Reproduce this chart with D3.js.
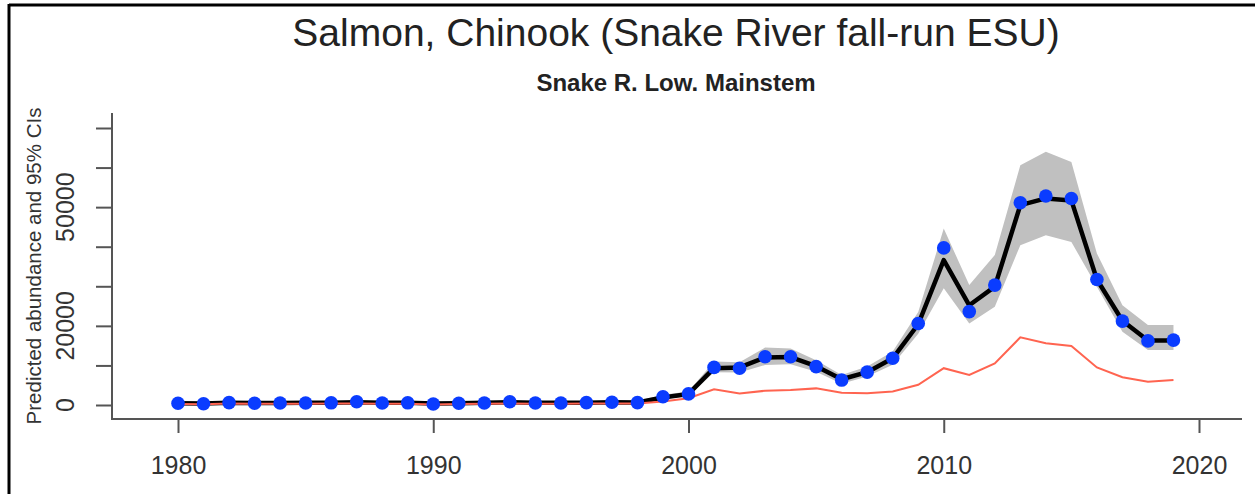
<!DOCTYPE html>
<html lang="en">
<head>
  <meta charset="UTF-8">
  <title>Salmon, Chinook</title>
  <style>
    body { margin: 0; background: #fff; }
    text { font-family: "Liberation Sans", Arial, sans-serif; }
  </style>
</head>
<body>
  <svg id="chart" width="1255" height="494"></svg>
  <script src="https://d3js.org/d3.v7.min.js"></script>
  <script>
    // years and values
    var years = [1980,1981,1982,1983,1984,1985,1986,1987,1988,1989,
                 1990,1991,1992,1993,1994,1995,1996,1997,1998,1999,
                 2000,2001,2002,2003,2004,2005,2006,2007,2008,2009,
                 2010,2011,2012,2013,2014,2015,2016,2017,2018,2019];
    var observed = [450,300,600,450,500,500,550,830,500,550,
                    250,450,500,830,500,500,600,700,600,2100,
                    2800,9500,9300,12200,12200,9700,6300,8300,11800,20600,
                    39700,23600,30300,51100,52800,52200,31700,21200,16200,16400];
    var predicted = [450,350,550,500,500,550,600,700,550,550,
                     350,450,550,700,550,550,600,700,650,1900,
                     2800,9300,9500,12000,12100,9800,6500,8300,11800,20400,
                     36600,25200,29900,50500,52200,51700,31700,21300,16300,16300];
    var lower = [200,100,300,200,250,250,300,400,250,300,
                 100,200,250,400,250,250,300,400,350,1500,
                 2200,8300,8200,10100,10300,8400,5400,7200,10200,18000,
                 29500,20600,24800,40400,42900,41200,29900,18500,13900,13900];
    var upper = [700,600,850,750,800,800,900,1100,850,850,
                 600,750,850,1100,850,850,900,1100,1000,2600,
                 3400,11000,10800,14500,14300,11300,7600,9700,13500,23500,
                 44600,30300,37900,60600,64000,61400,38300,25200,20200,20200];
    var redLine = [250,200,350,300,300,300,350,400,300,300,
                   150,250,300,400,300,300,350,400,400,900,
                   1700,3950,2900,3600,3800,4200,3100,3000,3400,5100,
                   9300,7600,10500,17100,15600,14900,9500,7000,5900,6300];
    var yTicks = [0,10000,20000,30000,40000,50000,60000,70000];
    var yLabels = [0,20000,50000];
    var xTicks = [1980,1990,2000,2010,2020];

    var svg = d3.select("#chart");

    // frame edges visible in the screenshot
    svg.append("line").attr("x1", 9).attr("x2", 1255).attr("y1", 5).attr("y2", 5)
      .attr("stroke", "#000").attr("stroke-width", 3);
    svg.append("line").attr("x1", 9).attr("x2", 9).attr("y1", 4).attr("y2", 494)
      .attr("stroke", "#000").attr("stroke-width", 3);

    var x = d3.scaleLinear().domain([1980, 2020]).range([178, 1199]);
    var y = d3.scaleLinear().domain([0, 70000]).range([405, 128]);

    var boxLeft = 112, boxRight = 1242, boxTop = 113, boxBottom = 419;

    var rows = years.map(function(yr, i) {
      return {year: yr, obs: observed[i], pred: predicted[i], lo: lower[i], hi: upper[i], red: redLine[i]};
    });

    // CI band
    svg.append("path")
      .datum(rows)
      .attr("fill", "#c0c0c0")
      .attr("d", d3.area().x(d => x(d.year)).y0(d => y(d.lo)).y1(d => y(d.hi)));

    svg.append("path")
      .datum(rows)
      .attr("fill", "none")
      .attr("stroke", "#000")
      .attr("stroke-width", 4.5)
      .attr("stroke-linejoin", "round")
      .attr("d", d3.line().x(d => x(d.year)).y(d => y(d.pred)));

    svg.append("path")
      .datum(rows)
      .attr("fill", "none")
      .attr("stroke", "#ff6450")
      .attr("stroke-width", 2)
      .attr("d", d3.line().x(d => x(d.year)).y(d => y(d.red)));

    svg.append("g").selectAll("circle")
      .data(rows)
      .enter()
      .append("circle")
      .attr("cx", d => x(d.year))
      .attr("cy", d => y(d.obs))
      .attr("r", 6.8)
      .attr("fill", "#0a3cff");

    // L-shaped box
    svg.append("path")
      .attr("d", "M" + boxLeft + "," + boxTop + "V" + boxBottom + "H" + boxRight)
      .attr("fill", "none").attr("stroke", "#555").attr("stroke-width", 2);

    // y axis
    var yAxis = svg.append("g")
      .attr("transform", "translate(" + boxLeft + ",0)")
      .call(d3.axisLeft(y).tickValues(yTicks).tickSize(16).tickFormat(""));
    yAxis.select(".domain").remove();
    yAxis.selectAll(".tick line").attr("stroke", "#555").attr("stroke-width", 2);

    svg.append("g").selectAll("text")
      .data(yLabels)
      .enter()
      .append("text")
      .attr("transform", d => "translate(74," + y(d) + ") rotate(-90)")
      .attr("text-anchor", "middle")
      .attr("font-size", 25)
      .attr("fill", "#333")
      .text(d => d);

    // x axis
    var xAxis = svg.append("g")
      .attr("transform", "translate(0," + boxBottom + ")")
      .call(d3.axisBottom(x).tickValues(xTicks).tickSize(14).tickPadding(23).tickFormat(d3.format("d")));
    xAxis.select(".domain").remove();
    xAxis.selectAll(".tick line").attr("stroke", "#555").attr("stroke-width", 2);
    xAxis.selectAll(".tick text").attr("font-size", 25).attr("fill", "#333")
      .style("font-family", "'Liberation Sans', Arial, sans-serif");

    svg.append("text")
      .attr("transform", "translate(41,266) rotate(-90)")
      .attr("text-anchor", "middle")
      .attr("font-size", 20.5)
      .attr("fill", "#333")
      .text("Predicted abundance and 95% CIs");

    svg.append("text")
      .attr("x", 676).attr("y", 46)
      .attr("text-anchor", "middle")
      .attr("font-size", 39)
      .attr("fill", "#222")
      .text("Salmon, Chinook (Snake River fall-run ESU)");

    svg.append("text")
      .attr("x", 676).attr("y", 91)
      .attr("text-anchor", "middle")
      .attr("font-size", 24)
      .attr("font-weight", "bold")
      .attr("fill", "#222")
      .text("Snake R. Low. Mainstem");
  </script>
</body>
</html>
